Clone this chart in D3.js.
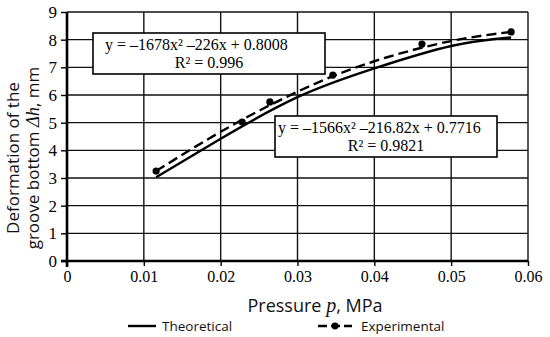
<!DOCTYPE html>
<html><head><meta charset="utf-8">
<script src="https://cdn.jsdelivr.net/npm/d3@7"></script>
<style>body{margin:0;background:#fff}svg{display:block}</style>
</head><body>
<svg id="c" width="550" height="337"></svg>
<script>
const xTicks = [0, 0.01, 0.02, 0.03, 0.04, 0.05, 0.06];
const xTickLabels = ["0", "0.01", "0.02", "0.03", "0.04", "0.05", "0.06"];
const yTicks = [0, 1, 2, 3, 4, 5, 6, 7, 8, 9];
// measured experimental points
const pressure = [0.0116, 0.0228, 0.0264, 0.0346, 0.0462, 0.0578];
const experimental = [3.25, 5.02, 5.75, 6.72, 7.84, 8.28];
// curves
const curvePressure = [0.0116, 0.02, 0.03, 0.04, 0.05, 0.0578];
const experimentalCurve = [3.25, 4.67, 6.12, 7.22, 7.95, 8.28];
const theoreticalCurve = [3.03, 4.42, 5.92, 6.96, 7.77, 8.08];
const eqExp = ["y = \u20131678x\u00B2 \u2013226x + 0.8008", "R\u00B2 = 0.996"];
const eqTheo = ["y = \u20131566x\u00B2 \u2013216.82x + 0.7716", "R\u00B2 = 0.9821"];

const svg = d3.select("#c");
const x = d3.scaleLinear().domain([0, 0.06]).range([67, 528]);
const y = d3.scaleLinear().domain([0, 9]).range([261, 12]);
const serif = "'Liberation Serif', 'Times New Roman', serif";
const sans = "'Open Sans', 'Noto Sans', sans-serif";

// grid
svg.append("g").selectAll("line").data(yTicks.slice(1)).join("line")
  .attr("x1", x(0)).attr("x2", x(0.06)).attr("y1", d => y(d)).attr("y2", d => y(d))
  .attr("stroke", "#111").attr("stroke-width", 1.4);
svg.append("g").selectAll("line").data(xTicks.slice(1)).join("line")
  .attr("x1", d => x(d)).attr("x2", d => x(d)).attr("y1", y(0)).attr("y2", y(9))
  .attr("stroke", "#111").attr("stroke-width", 1.4);

// axes
const xAxis = d3.axisBottom(x).tickValues(xTicks).tickFormat((d, i) => xTickLabels[i]).tickSize(5).tickPadding(5);
const gx = svg.append("g").attr("transform", `translate(0,${y(0)})`).call(xAxis);
gx.select(".domain").attr("stroke", "#000").attr("stroke-width", 2.6).attr("d", `M${x(0)-6},0H${x(0.06)}`);
gx.selectAll(".tick line").attr("stroke", "#000").attr("stroke-width", 1.4);
gx.selectAll("text").attr("font-family", serif).attr("font-size", 16).attr("fill", "#000");

const yAxis = d3.axisLeft(y).tickValues(yTicks).tickSize(6).tickPadding(4);
const gy = svg.append("g").attr("transform", `translate(${x(0)},0)`).call(yAxis);
gy.select(".domain").attr("stroke", "#000").attr("stroke-width", 2.6).attr("d", `M0,${y(0)+6}V${y(9)}`);
gy.selectAll(".tick line").attr("stroke", "#000").attr("stroke-width", 1.4);
gy.selectAll("text").attr("font-family", serif).attr("font-size", 17).attr("fill", "#000");

// curves
const line = d3.line().x(d => x(d[0])).y(d => y(d[1])).curve(d3.curveNatural);
svg.append("path").datum(curvePressure.map((p, i) => [p, theoreticalCurve[i]]))
  .attr("d", line).attr("fill", "none").attr("stroke", "#000").attr("stroke-width", 2.4);
svg.append("path").datum(curvePressure.map((p, i) => [p, experimentalCurve[i]]))
  .attr("d", line).attr("fill", "none").attr("stroke", "#000").attr("stroke-width", 2.4)
  .attr("stroke-dasharray", "10,5");
svg.append("g").selectAll("circle").data(pressure).join("circle")
  .attr("cx", d => x(d)).attr("cy", (d, i) => y(experimental[i])).attr("r", 3.6).attr("fill", "#000");

// equation boxes
function eqBox(x0, y0, w, h, lines, lx, ly1, ly2) {
  svg.append("rect").attr("x", x0).attr("y", y0).attr("width", w).attr("height", h)
    .attr("fill", "#fff").attr("stroke", "#000").attr("stroke-width", 1.6);
  svg.append("text").attr("x", lx).attr("y", ly1).attr("font-family", serif).attr("font-size", 16).text(lines[0]);
  svg.append("text").attr("x", x0 + w / 2).attr("y", ly2).attr("text-anchor", "middle")
    .attr("font-family", serif).attr("font-size", 16).text(lines[1]);
}
eqBox(93, 33, 232, 41, eqExp, 105, 50, 68);
eqBox(275, 116, 222, 41, eqTheo, 278, 133, 151);

// y title
const yt = svg.append("text").attr("transform", "translate(19,158) rotate(-90)")
  .attr("text-anchor", "middle").attr("font-family", sans).attr("font-size", 17).attr("fill", "#111");
yt.append("tspan").attr("x", 0).attr("dy", 0).text("Deformation of the");
yt.append("tspan").attr("x", 0).attr("dy", 20).text("groove bottom ");
yt.append("tspan").attr("font-family", serif).attr("font-style", "italic").attr("font-size", 18.5).text("\u0394h");
yt.append("tspan").text(", mm");

// x title
const xt = svg.append("text").attr("x", 315).attr("y", 312).attr("text-anchor", "middle")
  .attr("font-family", sans).attr("font-size", 18).attr("fill", "#111");
xt.append("tspan").text("Pressure ");
xt.append("tspan").attr("font-family", serif).attr("font-style", "italic").attr("font-size", 20).text("p");
xt.append("tspan").text(", MPa");

// legend
const lg = svg.append("g");
lg.append("line").attr("x1", 128).attr("x2", 156).attr("y1", 326).attr("y2", 326).attr("stroke", "#000").attr("stroke-width", 2.4);
lg.append("text").attr("x", 162).attr("y", 331).attr("font-family", sans).attr("font-size", 13.5).attr("fill", "#111").text("Theoretical");
lg.append("line").attr("x1", 318).attr("x2", 352).attr("y1", 326).attr("y2", 326).attr("stroke", "#000").attr("stroke-width", 2.4).attr("stroke-dasharray", "9,4");
lg.append("circle").attr("cx", 335).attr("cy", 326).attr("r", 3.4).attr("fill", "#000");
lg.append("text").attr("x", 361).attr("y", 331).attr("font-family", sans).attr("font-size", 13.5).attr("fill", "#111").text("Experimental");
</script>
</body></html>
